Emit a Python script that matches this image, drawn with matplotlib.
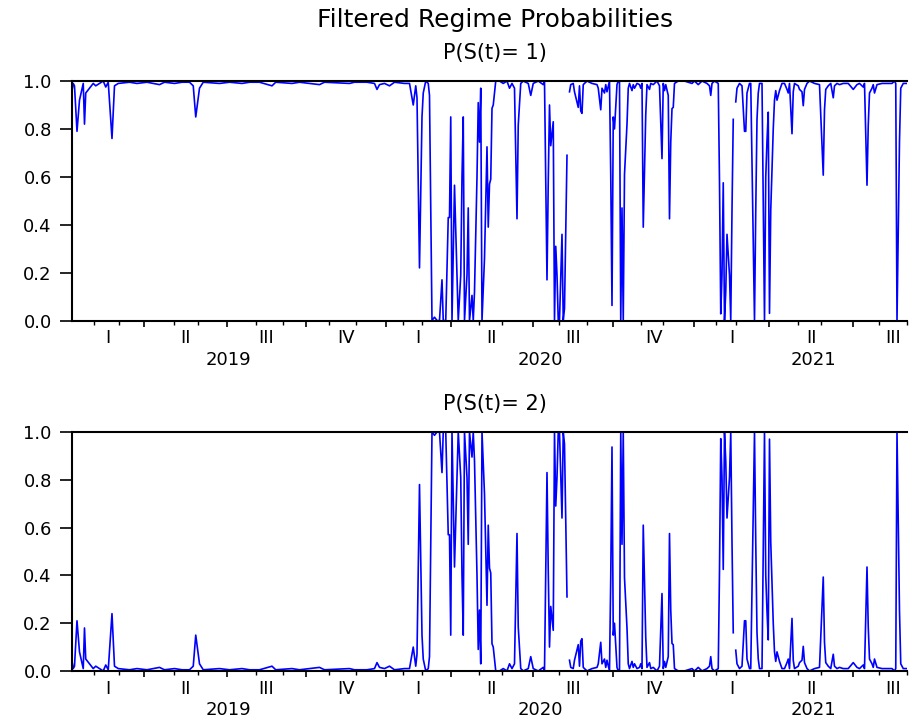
import numpy as np
import matplotlib
matplotlib.use("Agg")
import matplotlib.pyplot as plt
import matplotlib.transforms as mtransforms

# Filtered probability of regime 1, read at turning points (obs = trading day number)
# nan marks observations with no estimate
obs = [0, 1, 2, 4, 6, 9, 10, 11, 14, 17, 19, 22, 25, 27, 29, 32, 34, 37, 46, 52,
       60, 70, 74, 82, 88, 94, 97, 99, 102, 105, 118, 126, 136, 142, 150, 160, 163, 176, 182, 198,
       202, 222, 226, 236, 242, 244, 246, 250, 254, 258, 266, 270, 273, 275, 276, 278, 280, 281, 283, 285,
       286, 288, 290, 292, 294, 296, 297, 299, 301, 302, 303, 304, 306, 308, 309, 311, 312, 313, 314, 316,
       317, 318, 320, 321, 322, 324, 325, 326, 327, 328, 330, 332, 333, 334, 335, 336, 337, 339, 342, 345,
       348, 350, 352, 354, 356, 357, 359, 361, 365, 367, 369, 373, 377, 378, 379, 380, 381, 382, 383, 385,
       386, 387, 388, 389, 390, 392, 393, 394, 396, 397, 398, 399, 401, 402, 405, 406, 407, 408, 409, 412,
       416, 420, 421, 423, 424, 426, 427, 428, 430, 431, 432, 433, 434, 436, 437, 438, 439, 440, 441, 442,
       444, 445, 446, 448, 449, 450, 452, 454, 455, 456, 457, 459, 460, 462, 463, 465, 468, 470, 472, 473,
       474, 475, 477, 478, 479, 480, 481, 482, 485, 490, 496, 498, 501, 504, 508, 510, 511, 512, 514, 517,
       518, 519, 520, 521, 522, 523, 524, 526, 527, 528, 529, 530, 531, 532, 534, 536, 538, 539, 540, 541,
       542, 543, 546, 547, 548, 549, 550, 552, 554, 555, 556, 557, 558, 559, 561, 562, 563, 564, 566, 568,
       570, 572, 573, 574, 576, 577, 578, 581, 582, 584, 585, 586, 588, 590, 594, 598, 601, 602, 603, 605,
       607, 609, 610, 612, 614, 617, 621, 625, 628, 630, 633, 634, 636, 637, 638, 640, 641, 642, 644, 648,
       650, 656, 658, 659, 660, 662, 663, 665, 668]
p_state1 = [0.96, 0.99, 0.98, 0.79, 0.92, 0.99, 0.82, 0.95, 0.97, 0.99, 0.98, 0.99, 1.0, 0.975, 0.995, 0.76, 0.98, 0.99, 0.995, 0.99,
            0.995, 0.985, 0.995, 0.99, 0.995, 0.995, 0.98, 0.85, 0.97, 0.995, 0.99, 0.995, 0.99, 0.995, 0.995, 0.98, 0.995, 0.99, 0.995, 0.985,
            0.995, 0.99, 0.995, 0.995, 0.99, 0.965, 0.985, 0.99, 0.98, 0.995, 0.99, 0.99, 0.90, 0.98, 0.93, 0.22, 0.85, 0.95, 1.0, 0.99,
            0.94, 0.0, 0.014, 0.0, 0.0, 0.17, 0.0, 0.0, 0.43, 0.43, 0.85, 0.0, 0.565, 0.19, 0.0, 0.19, 0.60, 0.85, 0.0, 0.19,
            0.47, 0.0, 0.105, 0.0, 0.12, 0.6, 0.91, 0.745, 0.97, 0.0, 0.26, 0.725, 0.39, 0.57, 0.59, 0.886, 0.90, 1.0, 1.0, 0.99,
            1.0, 0.97, 0.99, 0.97, 0.425, 0.816, 0.99, 1.0, 0.99, 0.94, 0.99, 1.0, 0.985, 1.0, 0.58, 0.17, 0.58, 0.90, 0.73, 0.83,
            0.0, 0.31, 0.19, 0.0, 0.0, 0.36, 0.0, 0.05, 0.69, np.nan, 0.955, 0.985, 0.99, 0.955, 0.89, 0.98, 0.875, 0.865, 0.985, 1.0,
            0.99, 0.985, 0.97, 0.88, 0.97, 0.95, 0.985, 0.955, 1.0, 0.607, 0.063, 0.85, 0.80, 0.985, 1.0, 1.0, 0.0, 0.47, 0.0, 0.61,
            0.82, 0.97, 0.99, 0.96, 0.985, 0.97, 0.99, 0.985, 0.97, 0.99, 0.39, 0.86, 0.985, 0.965, 0.99, 0.985, 1.0, 0.98, 0.676, 0.99,
            0.96, 0.985, 0.94, 0.425, 0.745, 0.885, 0.89, 0.99, 1.0, 1.0, 0.99, 1.0, 0.985, 1.0, 0.99, 0.98, 0.94, 0.99, 1.0, 0.99,
            0.58, 0.028, 0.19, 0.575, 0.0, 0.12, 0.36, 0.19, 0.0, 0.46, 0.84, np.nan, 0.913, 0.97, 0.99, 0.98, 0.79, 0.79, 0.95, 0.97,
            0.99, 0.99, 0.0, 0.46, 0.84, 0.95, 0.99, 0.99, 0.0, 0.6, 0.75, 0.87, 0.03, 0.46, 0.8, 0.92, 0.96, 0.92, 0.96, 0.99,
            0.99, 0.965, 0.95, 0.99, 0.78, 0.955, 0.99, 0.98, 0.965, 0.955, 0.897, 0.965, 0.99, 1.0, 0.99, 0.985, 0.607, 0.88, 0.965, 0.98,
            0.99, 0.93, 0.98, 0.99, 0.985, 0.99, 0.99, 0.965, 0.985, 0.99, 0.975, 0.99, 0.565, 0.816, 0.95, 0.97, 0.985, 0.95, 0.985, 0.99,
            0.99, 0.99, 1.0, 0.99, 0.0, 0.75, 0.97, 0.99, 0.99]

# calendar of the sample, in observation numbers
quarter_start = [0, 58, 124, 187, 251, 303, 369, 433, 498, 558, 625]
quarter_end = 689
quarter_names = ["I", "II", "III", "IV", "I", "II", "III", "IV", "I", "II", "III"]
month_start = [18, 38, 82, 101, 147, 169, 206, 227, 265, 280, 326, 344,
               390, 412, 455, 473, 515, 531, 581, 599, 646, 668]
years = ["2019", "2020", "2021"]
year_start = [0, 251, 498]
last_obs = 668

obs = np.array(obs)
p1 = np.array(p_state1, dtype=float)
p2 = 1.0 - p1

plt.rcParams['font.family'] = ['DejaVu Sans']

fig = plt.figure(figsize=(9.09, 7.19), dpi=100)
fig.text(0.545, 0.972, "Filtered Regime Probabilities", ha='center', va='center', fontsize=18)


def draw_panel(ax, values, title, title_y):
    ax.plot(obs, values, color='#0000ff', lw=1.2)
    ax.set_xlim(0, last_obs)
    ax.set_ylim(0, 1)
    ax.spines['right'].set_visible(False)
    for s in ['left', 'bottom', 'top']:
        ax.spines[s].set_linewidth(1.5)
    ax.set_yticks(np.arange(0, 1.01, 0.2))
    ax.set_yticklabels(["%.1f" % v for v in np.arange(0, 1.01, 0.2)])
    ax.tick_params(axis='y', length=8.5, width=1.2, pad=6, labelsize=13)
    ax.set_xticks(quarter_start[1:])
    ax.set_xticks(month_start, minor=True)
    ax.set_xticklabels([])
    ax.tick_params(axis='x', which='major', length=4.5, width=1.2)
    ax.tick_params(axis='x', which='minor', length=3, width=1.0)

    # quarter and year labels under the axis
    trans = mtransforms.blended_transform_factory(ax.transData, ax.transAxes)
    bounds = quarter_start + [quarter_end]
    for i, q in enumerate(quarter_names):
        mid = (bounds[i] + bounds[i + 1]) / 2
        ax.text(mid, -0.074, q, transform=trans, ha='center', va='center', fontsize=13)
    ybounds = year_start + [quarter_end]
    for i, y in enumerate(years):
        mid = (ybounds[i] + ybounds[i + 1]) / 2
        ax.text(mid, -0.164, y, transform=trans, ha='center', va='center', fontsize=13)

    fig.text(0.545, title_y, title, ha='center', va='center', fontsize=15)


ax1 = fig.add_axes([0.0792, 0.5542, 0.9186, 0.3331])
draw_panel(ax1, p1, "P(S(t)= 1)", 0.926)

ax2 = fig.add_axes([0.0792, 0.0668, 0.9186, 0.3324])
draw_panel(ax2, p2, "P(S(t)= 2)", 0.438)

fig.savefig("out.png", dpi=100)
